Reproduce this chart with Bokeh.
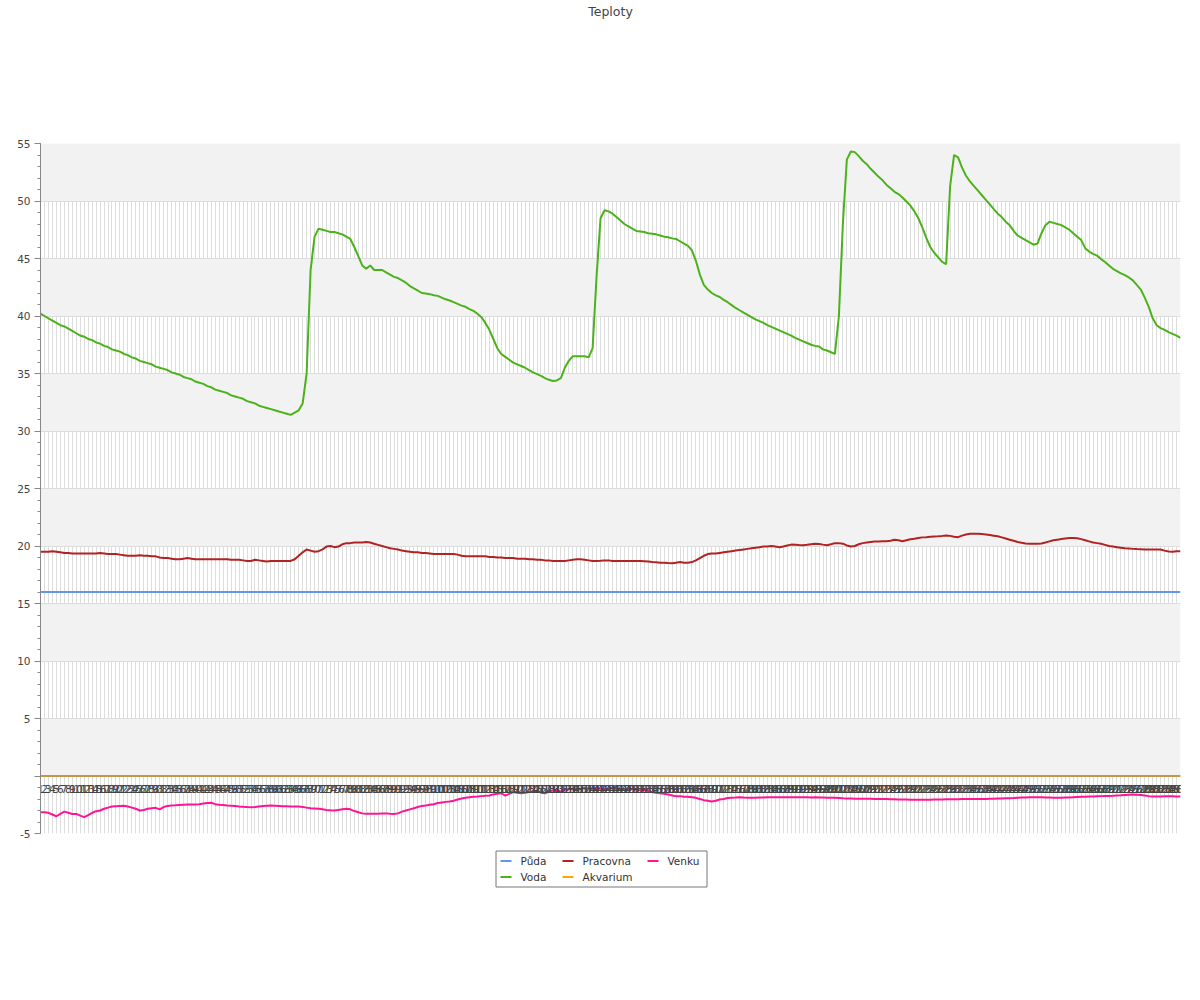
from bokeh.plotting import figure
from bokeh.layouts import column
from bokeh.models import (Range1d, SingleIntervalTicker, FixedTicker, Span,
                          Title, ColumnDataSource)
from bokeh.core.properties import value
from bokeh.embed import file_html
from bokeh.resources import INLINE

title_text = "Teploty"
series_names = ["Půda", "Voda", "Pracovna", "Akvarium", "Venku"]
series_colors = ["#6495ED", "#4CB21A", "#B22222", "#FFA500", "#FF1493"]

x_labels = [str(i) for i in range(1, 289)]

voda = [
    40.2, 40.0, 39.8, 39.6, 39.4, 39.2, 39.1, 38.9, 38.7, 38.5,
    38.3, 38.2, 38.0, 37.9, 37.7, 37.6, 37.4, 37.3, 37.1, 37.0,
    36.9, 36.7, 36.6, 36.4, 36.3, 36.1, 36.0, 35.9, 35.8, 35.6,
    35.5, 35.4, 35.3, 35.1, 35.0, 34.9, 34.7, 34.6, 34.5, 34.3,
    34.2, 34.1, 33.9, 33.8, 33.6, 33.5, 33.4, 33.3, 33.1, 33.0,
    32.9, 32.8, 32.6, 32.5, 32.4, 32.2, 32.1, 32.0, 31.9, 31.8,
    31.7, 31.6, 31.5, 31.4, 31.6, 31.8, 32.4, 35.0, 44.0, 46.9,
    47.6, 47.5, 47.4, 47.3, 47.3, 47.2, 47.1, 46.9, 46.7, 46.0,
    45.2, 44.4, 44.1, 44.4, 44.0, 44.0, 44.0, 43.8, 43.6, 43.4,
    43.3, 43.1, 42.9, 42.6, 42.4, 42.2, 42.0, 41.95, 41.9, 41.8,
    41.75, 41.6, 41.45, 41.35, 41.2, 41.05, 40.9, 40.8, 40.6, 40.45,
    40.2, 39.9, 39.4, 38.8, 38.0, 37.2, 36.7, 36.45, 36.2, 35.95,
    35.8, 35.65, 35.5, 35.3, 35.1, 34.95, 34.8, 34.6, 34.45, 34.35,
    34.4, 34.6, 35.5, 36.1, 36.5, 36.5, 36.5, 36.5, 36.4, 37.2,
    43.5, 48.5, 49.2, 49.1, 48.9, 48.6, 48.3, 48.0, 47.8, 47.6,
    47.4, 47.35, 47.3, 47.2, 47.15, 47.1, 47.0, 46.9, 46.85, 46.75,
    46.7, 46.5, 46.3, 46.1, 45.7, 44.8, 43.6, 42.7, 42.3, 42.0,
    41.8, 41.65, 41.4, 41.2, 40.95, 40.7, 40.5, 40.3, 40.1, 39.9,
    39.7, 39.55, 39.4, 39.2, 39.05, 38.9, 38.75, 38.6, 38.45, 38.3,
    38.1, 37.95, 37.8, 37.65, 37.5, 37.4, 37.35, 37.1, 37.0, 36.85,
    36.7, 40.0, 48.0, 53.6, 54.3, 54.25, 53.9, 53.5, 53.2, 52.8,
    52.45, 52.1, 51.8, 51.4, 51.1, 50.8, 50.6, 50.3, 49.95, 49.6,
    49.1, 48.5, 47.7, 46.8, 46.0, 45.5, 45.1, 44.7, 44.5, 51.3,
    54.0, 53.8, 52.9, 52.2, 51.7, 51.3, 50.9, 50.5, 50.1, 49.7,
    49.3, 48.9, 48.6, 48.2, 47.9, 47.4, 47.0, 46.8, 46.6, 46.4,
    46.2, 46.3, 47.2, 47.9, 48.2, 48.1, 48.0, 47.9, 47.7, 47.5,
    47.2, 46.9, 46.6, 45.9, 45.6, 45.4, 45.25, 44.95, 44.7, 44.4,
    44.1, 43.9, 43.7, 43.55, 43.35, 43.1, 42.7, 42.3, 41.6, 40.8,
    39.8, 39.2, 38.95, 38.8, 38.6, 38.45, 38.3, 38.1,
]

pracovna = [
    19.5, 19.5, 19.5, 19.55, 19.5, 19.45, 19.4, 19.4, 19.35, 19.35,
    19.35, 19.35, 19.35, 19.35, 19.35, 19.4, 19.35, 19.3, 19.3, 19.3,
    19.25, 19.2, 19.15, 19.15, 19.15, 19.2, 19.15, 19.15, 19.1, 19.1,
    19.0, 18.95, 18.95, 18.9, 18.85, 18.85, 18.9, 18.95, 18.9, 18.85,
    18.85, 18.85, 18.85, 18.85, 18.85, 18.85, 18.85, 18.85, 18.8, 18.8,
    18.8, 18.75, 18.7, 18.7, 18.8, 18.75, 18.7, 18.65, 18.7, 18.7,
    18.7, 18.7, 18.7, 18.7, 18.85, 19.15, 19.45, 19.7, 19.6, 19.5,
    19.55, 19.7, 19.95, 20.0, 19.9, 19.95, 20.15, 20.25, 20.25, 20.3,
    20.3, 20.3, 20.35, 20.3, 20.2, 20.1, 20.0, 19.9, 19.8, 19.75,
    19.7, 19.6, 19.55, 19.5, 19.45, 19.45, 19.4, 19.4, 19.35, 19.3,
    19.3, 19.3, 19.3, 19.3, 19.3, 19.25, 19.15, 19.1, 19.1, 19.1,
    19.1, 19.1, 19.1, 19.05, 19.05, 19.0, 19.0, 18.95, 18.95, 18.95,
    18.9, 18.9, 18.9, 18.85, 18.85, 18.8, 18.8, 18.75, 18.75, 18.7,
    18.7, 18.7, 18.7, 18.75, 18.8, 18.85, 18.85, 18.8, 18.75, 18.7,
    18.7, 18.72, 18.75, 18.75, 18.7, 18.7, 18.7, 18.7, 18.7, 18.7,
    18.7, 18.7, 18.68, 18.65, 18.6, 18.58, 18.55, 18.55, 18.52, 18.5,
    18.55, 18.6, 18.55, 18.55, 18.6, 18.75, 18.95, 19.15, 19.3, 19.35,
    19.35, 19.4, 19.45, 19.5, 19.55, 19.6, 19.65, 19.7, 19.75, 19.8,
    19.85, 19.9, 19.95, 19.95, 20.0, 19.95, 19.9, 19.95, 20.05, 20.12,
    20.1, 20.08, 20.07, 20.1, 20.15, 20.2, 20.18, 20.12, 20.07, 20.15,
    20.25, 20.25, 20.2, 20.05, 19.95, 20.0, 20.15, 20.25, 20.3, 20.35,
    20.4, 20.4, 20.42, 20.42, 20.45, 20.55, 20.5, 20.42, 20.5, 20.58,
    20.63, 20.7, 20.75, 20.77, 20.8, 20.83, 20.85, 20.88, 20.92, 20.88,
    20.8, 20.77, 20.9, 21.0, 21.06, 21.06, 21.06, 21.05, 21.0, 20.95,
    20.9, 20.85, 20.75, 20.65, 20.55, 20.45, 20.35, 20.28, 20.22, 20.2,
    20.19, 20.19, 20.22, 20.3, 20.4, 20.5, 20.55, 20.6, 20.65, 20.7,
    20.7, 20.68, 20.6, 20.5, 20.4, 20.3, 20.25, 20.19, 20.1, 20.0,
    19.95, 19.9, 19.85, 19.8, 19.78, 19.75, 19.73, 19.72, 19.7, 19.7,
    19.7, 19.7, 19.7, 19.6, 19.52, 19.5, 19.55, 19.55,
]

venku = [
    -3.15, -3.15, -3.2, -3.35, -3.5, -3.3, -3.1, -3.2, -3.3, -3.3,
    -3.45, -3.58, -3.4, -3.2, -3.06, -3.0, -2.85, -2.75, -2.65, -2.62,
    -2.6, -2.59, -2.65, -2.75, -2.85, -3.0, -2.95, -2.85, -2.8, -2.77,
    -2.9, -2.7, -2.6, -2.56, -2.55, -2.52, -2.5, -2.48, -2.48, -2.48,
    -2.45, -2.4, -2.35, -2.33, -2.45, -2.5, -2.52, -2.56, -2.58, -2.6,
    -2.65, -2.68, -2.7, -2.71, -2.7, -2.65, -2.6, -2.58, -2.56, -2.58,
    -2.6, -2.62, -2.63, -2.65, -2.65, -2.65, -2.7, -2.75, -2.8, -2.82,
    -2.85, -2.9, -2.95, -2.98, -3.0, -2.95, -2.9, -2.85, -2.9, -3.05,
    -3.15, -3.25, -3.29, -3.29, -3.29, -3.28, -3.25, -3.25, -3.28, -3.3,
    -3.25, -3.1, -3.0, -2.9, -2.8, -2.7, -2.6, -2.56, -2.5, -2.45,
    -2.35, -2.3, -2.25, -2.21, -2.15, -2.05, -1.95, -1.9, -1.85, -1.8,
    -1.78, -1.75, -1.72, -1.69, -1.6, -1.55, -1.5, -1.7, -1.55, -1.4,
    -1.45, -1.5, -1.45, -1.4, -1.35, -1.3, -1.45, -1.5, -1.35, -1.25,
    -1.3, -1.35, -1.2, -1.15, -1.1, -1.15, -1.1, -1.05, -1.1, -1.1,
    -1.05, -1.1, -1.15, -1.1, -1.05, -1.1, -1.15, -1.2, -1.1, -1.15,
    -1.2, -1.25, -1.2, -1.3, -1.4, -1.45, -1.5, -1.55, -1.6, -1.7,
    -1.75, -1.75, -1.8, -1.8, -1.85, -1.9, -2.0, -2.1, -2.15, -2.21,
    -2.15, -2.05, -2.0, -1.92, -1.9, -1.88, -1.85, -1.88, -1.9, -1.9,
    -1.9, -1.88, -1.86, -1.85, -1.84, -1.84, -1.84, -1.84, -1.84, -1.84,
    -1.84, -1.84, -1.84, -1.85, -1.86, -1.84, -1.86, -1.88, -1.9, -1.9,
    -1.9, -1.92, -1.94, -1.95, -1.96, -1.97, -1.98, -1.98, -1.98, -1.98,
    -2.0, -2.0, -2.0, -2.0, -2.02, -2.03, -2.04, -2.05, -2.05, -2.06,
    -2.06, -2.07, -2.07, -2.07, -2.07, -2.05, -2.05, -2.04, -2.03, -2.02,
    -2.02, -2.02, -2.01, -2.01, -2.0, -2.0, -2.0, -1.99, -1.99, -1.98,
    -1.97, -1.96, -1.95, -1.94, -1.93, -1.92, -1.9, -1.88, -1.86, -1.85,
    -1.84, -1.84, -1.85, -1.87, -1.88, -1.9, -1.9, -1.9, -1.88, -1.86,
    -1.84, -1.82, -1.8, -1.8, -1.79, -1.78, -1.76, -1.75, -1.74, -1.73,
    -1.72, -1.7, -1.68, -1.65, -1.62, -1.6, -1.62, -1.65, -1.7, -1.75,
    -1.78, -1.78, -1.78, -1.77, -1.76, -1.77, -1.78, -1.78,
]

# constant series (flat lines in the chart)
puda = [16.0] * len(x_labels)
akvarium = [0.0] * len(x_labels)

y_min, y_max, y_step = -5, 55, 5

FONT = "DejaVu Sans"
xs = list(range(len(x_labels)))
src = ColumnDataSource(dict(x=xs, puda=puda, voda=voda, pracovna=pracovna,
                            akvarium=akvarium, venku=venku,
                            lbl=x_labels, zero=[0.0] * len(xs)))

W = 1196
FW, FH = 1140, 690
LEFT, TOP, BOTTOM = 40, 143, 7
p = figure(output_backend="svg", toolbar_location=None,
           frame_width=FW, frame_height=FH,
           x_range=Range1d(xs[0], xs[-1]), y_range=Range1d(y_min, y_max),
           x_axis_location=None,
           min_border_left=LEFT, min_border_right=W - LEFT - FW,
           min_border_top=TOP, min_border_bottom=BOTTOM)
p.outline_line_color = None
p.background_fill_color = "white"

# grids
p.xgrid.ticker = FixedTicker(ticks=xs)
p.xgrid.grid_line_color = "#dddddd"
p.ygrid.grid_line_color = "#dddddd"
p.ygrid.band_fill_color = "#f2f2f2"
p.ygrid.band_fill_alpha = 1.0

# y axis
yax = p.yaxis[0]
yax.ticker = SingleIntervalTicker(interval=y_step, num_minor_ticks=5)
yax.axis_line_color = "#888888"
yax.major_tick_line_color = "#888888"
yax.minor_tick_line_color = "#888888"
yax.major_tick_in = 0
yax.major_tick_out = 6
yax.minor_tick_in = 0
yax.minor_tick_out = 3
yax.major_label_text_font = FONT
yax.major_label_text_font_size = "10.5px"
yax.major_label_text_color = "#444444"
yax.major_label_standoff = 4
yax.major_label_overrides = {0: "", -5: "-5"}

# zero axis line
p.add_layout(Span(location=0, dimension="width", line_color="#888888", line_width=1))

cols = ["puda", "voda", "pracovna", "akvarium", "venku"]
for name, col, color in zip(series_names, cols, series_colors):
    p.line("x", col, source=src, line_color=color, line_width=2)

# category labels along the zero line
p.text("x", "zero", text="lbl", source=src, text_font=value(FONT),
       text_font_size="10.5px", text_color="#444444", text_align="center",
       text_baseline="top", y_offset=9)

# title at the top: a thin spacer keeps it away from the frame
p.add_layout(Title(text=" ", text_font_size="1px", standoff=122), "above")
p.add_layout(Title(text=title_text, align="center", text_font=FONT,
                   text_font_size="12.5px", text_font_style="normal",
                   text_color="#444444", standoff=0), "above")

# ---- legend (drawn in a strip below the chart; frames align with the chart,
#      so the strip's x coordinates are page pixels) ----
LH = 60
leg = figure(output_backend="svg", toolbar_location=None,
             frame_width=FW, frame_height=LH,
             x_range=Range1d(LEFT, LEFT + FW), y_range=Range1d(LH, 0),
             x_axis_location=None, y_axis_location=None,
             min_border_left=LEFT, min_border_right=W - LEFT - FW,
             min_border_top=0, min_border_bottom=0)
leg.grid.visible = False
leg.outline_line_color = None

box_l, box_r, box_t, box_b = 495.5, 706.5, 10.5, 46.5
col_x = [500, 562, 647]
row_y = [20.5, 36.5]
leg.quad(left=[box_l], right=[box_r], top=[box_t], bottom=[box_b],
         fill_color="white", line_color="#777777", line_width=1)
gx = [col_x[i // 2] for i in range(len(series_names))]
gy = [row_y[i % 2] for i in range(len(series_names))]
leg.segment(x0=gx, y0=gy, x1=[g + 11 for g in gx], y1=gy,
            line_color=series_colors, line_width=2)
leg.text(x=[g + 20 for g in gx], y=gy, text=series_names,
         text_font=value(FONT), text_font_size="10.5px", text_color="#333333",
         text_align="left", text_baseline="middle")

layout = column(p, leg, spacing=0)
open("out.html", "w").write(file_html(layout, INLINE))
